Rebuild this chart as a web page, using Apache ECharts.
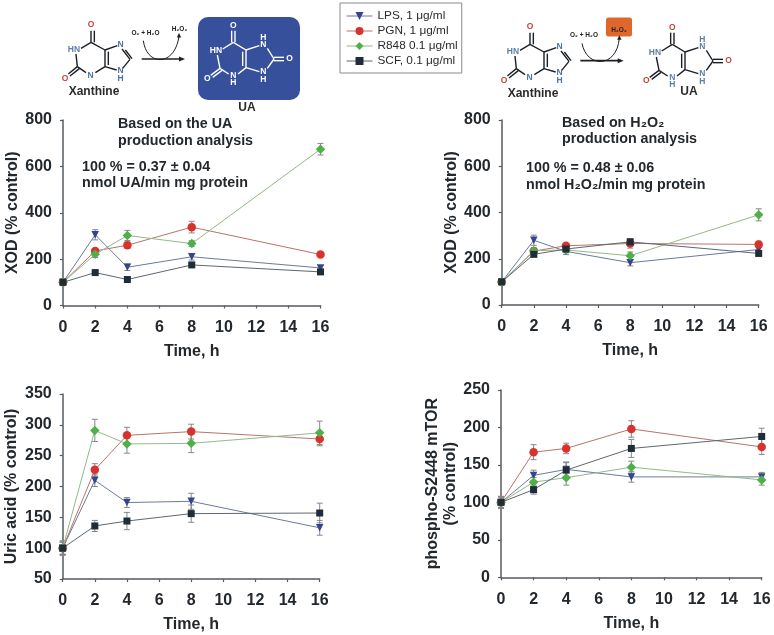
<!DOCTYPE html>
<html>
<head>
<meta charset="utf-8">
<style>html,body{margin:0;padding:0;background:#fff}#c{width:774px;height:635px}</style>
<script src="https://cdn.jsdelivr.net/npm/echarts@6/dist/echarts.min.js"></script>
</head>
<body>
<div id="c"></div>
<script>
const timePoints = [0, 2, 4, 8, 16];
const seriesNames = ['LPS, 1 \u03bcg/ml', 'PGN, 1 \u03bcg/ml', 'R848 0.1 \u03bcg/ml', 'SCF, 0.1 \u03bcg/ml'];

const xodUA_LPS = [100, 305, 165, 210, 162];
const xodUA_PGN = [100, 235, 260, 338, 220];
const xodUA_R848 = [100, 221, 302, 267, 674];
const xodUA_SCF = [100, 142, 112, 175, 145];
const xodUA_LPS_err = [8, 22, 14, 14, 10];
const xodUA_PGN_err = [8, 10, 14, 25, 8];
const xodUA_R848_err = [8, 14, 22, 12, 25];
const xodUA_SCF_err = [8, 8, 8, 8, 8];

const xodH2_LPS = [100, 280, 232, 183, 240];
const xodH2_PGN = [100, 233, 256, 266, 262];
const xodH2_R848 = [100, 235, 238, 213, 390];
const xodH2_SCF = [100, 219, 242, 273, 223];
const xodH2_LPS_err = [8, 22, 14, 14, 12];
const xodH2_PGN_err = [8, 8, 10, 20, 14];
const xodH2_R848_err = [8, 12, 12, 16, 26];
const xodH2_SCF_err = [8, 8, 10, 14, 10];

const uric_LPS = [100, 210, 174, 176, 133];
const uric_PGN = [100, 227, 283, 289, 277];
const uric_R848 = [100, 291, 269, 270, 287];
const uric_SCF = [100, 136, 144, 156, 157];
const uric_LPS_err = [10, 10, 8, 13, 12];
const uric_PGN_err = [10, 10, 13, 12, 11];
const uric_R848_err = [10, 18, 15, 15, 19];
const uric_SCF_err = [12, 9, 14, 14, 16];

const mtor_LPS = [100, 136, 144, 134, 134];
const mtor_PGN = [100, 167, 172, 198, 174];
const mtor_R848 = [100, 127, 133, 147, 130];
const mtor_SCF = [100, 117, 143, 172, 188];
const mtor_LPS_err = [8, 7, 10, 7, 6];
const mtor_PGN_err = [7, 10, 7, 11, 10];
const mtor_R848_err = [7, 6, 10, 8, 7];
const mtor_SCF_err = [8, 6, 10, 12, 11];

const chart = echarts.init(document.getElementById('c'));
const FONT = '"Liberation Sans", Arial, sans-serif';
const DARK = '#23282d';

const markerStyles = [
  { symbol: 'triangle', rotate: 180, size: 7.5, fill: '#33458f', line: '#6c7a9c' },
  { symbol: 'circle', rotate: 0, size: 8.5, fill: '#d8322f', line: '#b8746a' },
  { symbol: 'diamond', rotate: 0, size: 9.5, fill: '#4fb04a', line: '#94b987' },
  { symbol: 'rect', rotate: 0, size: 7, fill: '#1f2d38', line: '#5c6770' }
];

const panels = [
  { left: 63, top: 120, width: 257.5, height: 185.5, min: 0, max: 800, step: 200, yName: 'XOD (% control)', yGap: 41, xTitle: 'Time, h',
    vals: [xodUA_LPS, xodUA_PGN, xodUA_R848, xodUA_SCF], errs: [xodUA_LPS_err, xodUA_PGN_err, xodUA_R848_err, xodUA_SCF_err] },
  { left: 501.7, top: 120, width: 257, height: 185, min: 0, max: 800, step: 200, yName: 'XOD (% control)', yGap: 41, xTitle: 'Time, h',
    vals: [xodH2_LPS, xodH2_PGN, xodH2_R848, xodH2_SCF], errs: [xodH2_LPS_err, xodH2_PGN_err, xodH2_R848_err, xodH2_SCF_err] },
  { left: 62.7, top: 394, width: 257, height: 185, min: 50, max: 350, step: 50, yName: 'Uric acid (% control)', yGap: 42, xTitle: 'Time, h',
    vals: [uric_LPS, uric_PGN, uric_R848, uric_SCF], errs: [uric_LPS_err, uric_PGN_err, uric_R848_err, uric_SCF_err] },
  { left: 501, top: 390, width: 260.7, height: 187.3, min: 0, max: 250, step: 50, yName: 'phospho-S2448 mTOR\n(% control)', yGap: 37, xTitle: 'Time, h',
    vals: [mtor_LPS, mtor_PGN, mtor_R848, mtor_SCF], errs: [mtor_LPS_err, mtor_PGN_err, mtor_R848_err, mtor_SCF_err] }
];

const grids = [], xAxes = [], yAxes = [], series = [];
const axisLine = { show: true, onZero: false, lineStyle: { color: '#555b60', width: 1.5 } };
const axisTick = { show: true, length: 3, lineStyle: { color: '#555b60', width: 1.2 } };
const axisLabel = { color: DARK, fontFamily: FONT, fontWeight: 'bold', fontSize: 16 };
const axisName = { color: DARK, fontFamily: FONT, fontWeight: 'bold', fontSize: 16, lineHeight: 18 };

function errRender(params, api) {
  const x = api.value(0), y = api.value(1), e = api.value(2);
  const hi = api.coord([x, y + e]), lo = api.coord([x, y - e]);
  const st = { stroke: '#85888b', lineWidth: 1, fill: null };
  return { type: 'group', children: [
    { type: 'line', shape: { x1: hi[0], y1: hi[1], x2: lo[0], y2: lo[1] }, style: st },
    { type: 'line', shape: { x1: hi[0] - 3, y1: hi[1], x2: hi[0] + 3, y2: hi[1] }, style: st },
    { type: 'line', shape: { x1: lo[0] - 3, y1: lo[1], x2: lo[0] + 3, y2: lo[1] }, style: st }
  ] };
}

panels.forEach((p, i) => {
  grids.push({ left: p.left, top: p.top, width: p.width, height: p.height, containLabel: false });
  xAxes.push({ type: 'value', gridIndex: i, min: 0, max: 16, interval: 2, splitLine: { show: false },
    axisLine, axisTick, axisLabel: Object.assign({ margin: 14 }, axisLabel),
    name: p.xTitle, nameLocation: 'middle', nameGap: 37, nameTextStyle: axisName });
  yAxes.push({ type: 'value', gridIndex: i, min: p.min, max: p.max, interval: p.step, splitLine: { show: false },
    axisLine, axisTick, axisLabel: Object.assign({ margin: 11 }, axisLabel),
    name: p.yName, nameLocation: 'middle', nameGap: p.yGap, nameRotate: 90, nameTextStyle: axisName });
  p.vals.forEach((v, s) => {
    series.push({ type: 'custom', xAxisIndex: i, yAxisIndex: i, z: 2, renderItem: errRender, silent: true,
      data: timePoints.map((t, k) => [t, v[k], p.errs[s][k]]), encode: { x: 0, y: 1 } });
  });
  p.vals.forEach((v, s) => {
    const m = markerStyles[s];
    series.push({ type: 'line', name: seriesNames[s], xAxisIndex: i, yAxisIndex: i, z: 3 + s,
      data: timePoints.map((t, k) => [t, v[k]]),
      symbol: m.symbol, symbolRotate: m.rotate, symbolSize: m.size,
      showSymbol: true, itemStyle: { color: m.fill }, lineStyle: { color: m.line, width: 1 } });
  });
});

/* ---- reaction schemes (drawn in px of a 3x sketch) ---- */
const gfx = [];
function line(x1, y1, x2, y2, color, w, dx, dy) {
  gfx.push({ type: 'line', silent: true, shape: { x1: (x1 / 3) + dx, y1: (y1 / 3) + dy, x2: (x2 / 3) + dx, y2: (y2 / 3) + dy }, style: { stroke: color, lineWidth: w } });
}
function txt(t, x, y, size, color, weight, align) {
  gfx.push({ type: 'text', silent: true, style: { text: t, x, y, font: (weight || 'normal') + ' ' + size + 'px ' + FONT, fill: color, textAlign: align || 'center', textVerticalAlign: 'middle' } });
}
function label(t, x, y, color, dx, dy, size) { txt(t, x / 3 + dx, y / 3 + dy, size || 8.5, color, 'bold'); }

function xanthine(dx, dy) {
  const k = '#1c2024', w = 1.4;
  [[273,127,273,92],[283,127,283,92],[273,127,243,145],[228,162,232,200],[232,200,258,218],[286,218,315,200],[315,200,315,150],[325,195,325,155],[315,150,273,127],
   [315,150,352,137],[366,147,390,178],[376,150,396,176],[390,178,368,205],[350,210,315,200],[232,200,205,222],[238,206,210,228]].forEach(b => line(b[0], b[1], b[2], b[3], k, w, dx, dy));
  label('O', 273, 75, '#c0463f', dx, dy); label('HN', 222, 150, '#5f7fa6', dx, dy); label('O', 195, 235, '#c0463f', dx, dy);
  label('N', 272, 226, '#4f74a3', dx, dy); label('N', 362, 135, '#4f74a3', dx, dy); label('N', 362, 213, '#4f74a3', dx, dy); label('H', 362, 236, '#4f74a3', dx, dy);
  txt('Xanthine', 282 / 3 + dx, 275 / 3 + dy, 12, '#2b2b2b', 'bold');
}
function uricAcid(dx, dy, bond, oc, nc) {
  const w = 1.4;
  [[695,127,695,92],[705,127,705,92],[700,127,668,147],[652,165,660,205],[660,205,686,222],[714,222,738,203],[738,203,738,150],[728,198,728,155],[738,150,700,127],
   [738,150,778,137],[802,145,822,177],[822,177,802,205],[778,215,738,203],[822,172,852,172],[822,182,852,182],[660,205,632,226],[666,211,638,232]].forEach(b => line(b[0], b[1], b[2], b[3], bond, w, dx, dy));
  label('O', 700, 78, oc, dx, dy); label('HN', 648, 153, nc, dx, dy); label('O', 622, 236, oc, dx, dy);
  label('N', 700, 226, nc, dx, dy); label('H', 700, 249, nc, dx, dy);
  label('N', 790, 135, nc, dx, dy); label('H', 790, 113, nc, dx, dy);
  label('N', 790, 215, nc, dx, dy); label('H', 790, 238, nc, dx, dy); label('O', 869, 177, oc, dx, dy);
}
function arrow(x1, y, x2, dx) {
  gfx.push({ type: 'line', silent: true, shape: { x1: x1 / 3 + dx, y1: y / 3, x2: x2 / 3 + dx - 3, y2: y / 3 }, style: { stroke: '#1c2024', lineWidth: 1.6 } });
  gfx.push({ type: 'polygon', silent: true, shape: { points: [[x2 / 3 + dx, y / 3], [x2 / 3 + dx - 6, y / 3 - 2.5], [x2 / 3 + dx - 6, y / 3 + 2.5]] }, style: { fill: '#1c2024' } });
}
function arc(x1, y1, cx1, cy1, cx2, cy2, x2, y2) {
  gfx.push({ type: 'bezierCurve', silent: true, shape: { x1: x1 / 3, y1: y1 / 3, cpx1: cx1 / 3, cpy1: cy1 / 3, cpx2: cx2 / 3, cpy2: cy2 / 3, x2: x2 / 3, y2: y2 / 3 }, style: { stroke: '#1c2024', lineWidth: 1, fill: 'none' } });
  gfx.push({ type: 'polygon', silent: true, shape: { points: [[x2 / 3, y2 / 3 - 3], [x2 / 3 - 2.2, y2 / 3 + 1.5], [x2 / 3 + 2.2, y2 / 3 + 1.5]] }, style: { fill: '#1c2024' } });
}

gfx.push({ type: 'rect', silent: true, shape: { x: 198, y: 17, width: 102, height: 83, r: 10 }, style: { fill: '#37509b' } });
gfx.push({ type: 'rect', silent: true, shape: { x: 606, y: 17.5, width: 26, height: 19, r: 2.5 }, style: { fill: '#e0672c' } });
xanthine(0, 0);
xanthine(439, 2);
uricAcid(0, 0, '#ffffff', '#ffffff', '#ffffff');
uricAcid(439, 2, '#1c2024', '#c0463f', '#5f7fa6');
arrow(425, 177, 555, 0);
arrow(1741, 182, 1871, 0);
arc(430, 122, 440, 200, 525, 200, 537, 108);
arc(1746, 130, 1760, 205, 1850, 205, 1858, 115);
txt('O\u2082 + H\u2082O', 145.5, 33.5, 6.5, '#222', 'bold');
txt('H\u2082O\u2082', 179.5, 29.5, 6.5, '#222', 'bold');
txt('O\u2082 + H\u2082O', 584, 35.5, 6.5, '#222', 'bold');
txt('H\u2082O\u2082', 619, 30.5, 6.5, '#222', 'bold');
txt('UA', 247, 108, 12, '#2b2b2b', 'bold');
txt('UA', 689, 92, 12, '#2b2b2b', 'bold');

/* annotations */
const NOTE = 14.3;
txt('Based on the UA', 118, 124, NOTE, DARK, 'bold', 'left');
txt('production analysis', 118, 141, NOTE, DARK, 'bold', 'left');
txt('100 % = 0.37 \u00b1 0.04', 82, 167, NOTE, DARK, 'bold', 'left');
txt('nmol UA/min mg protein', 82, 183, NOTE, DARK, 'bold', 'left');
txt('Based on H\u2082O\u2082', 562, 123, NOTE, DARK, 'bold', 'left');
txt('production analysis', 562, 139, NOTE, DARK, 'bold', 'left');
txt('100 % = 0.48 \u00b1 0.06', 526, 168, NOTE, DARK, 'bold', 'left');
txt('nmol H\u2082O\u2082/min mg protein', 526, 185, NOTE, DARK, 'bold', 'left');

chart.setOption({
  animation: false,
  backgroundColor: '#fff',
  grid: grids,
  xAxis: xAxes,
  yAxis: yAxes,
  series,
  graphic: gfx,
  legend: {
    data: seriesNames, orient: 'vertical', left: 340, top: 3,
    padding: [7, 4, 6, 6], itemGap: 3, itemWidth: 26, itemHeight: 10, selectedMode: false,
    borderColor: '#8a8a8a', borderWidth: 1, backgroundColor: '#fff',
    lineStyle: { width: 1 },
    textStyle: { color: '#2a2a2a', fontFamily: FONT, fontSize: 11.8 }
  }
});
</script>
</body>
</html>
